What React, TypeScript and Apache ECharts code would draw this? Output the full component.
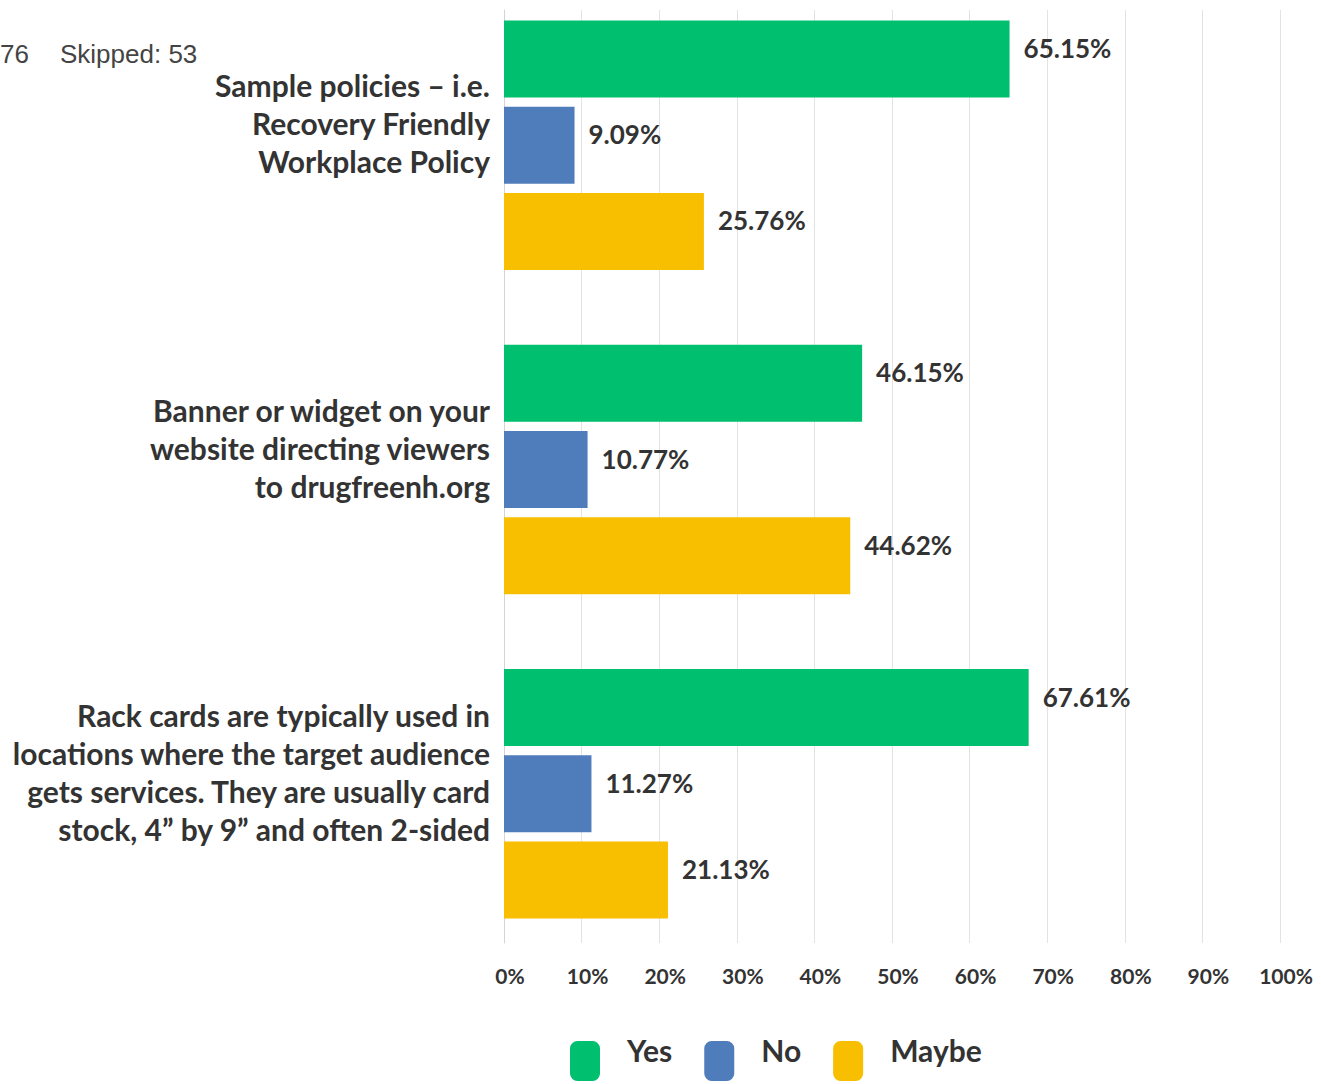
import React, { useEffect, useRef } from "react";
import * as echarts from "echarts";

const categories = [
  "Sample policies – i.e.\nRecovery Friendly\nWorkplace Policy",
  "Banner or widget on your\nwebsite directing viewers\nto drugfreenh.org",
  "Rack cards are typically used in\nlocations where the target audience\ngets services. They are usually card\nstock, 4” by 9” and often 2-sided",
];
const seriesNames = ["Yes", "No", "Maybe"];
const yesValues = [65.15, 46.15, 67.61];
const noValues = [9.09, 10.77, 11.27];
const maybeValues = [25.76, 44.62, 21.13];
const colors = ["#00BF6F", "#4F7CBA", "#F8BE00"];
const headerTexts = ["76", "Skipped: 53"];

const FONT = "Lato, 'Open Sans', sans-serif";
const SHIFT = 17; // container is moved up so the first band can start above the page

export default function App() {
  const ref = useRef<HTMLDivElement>(null);
  useEffect(() => {
    if (!ref.current) return;
    const chart = echarts.init(ref.current, null, { renderer: "svg" });
    const values = [yesValues, noValues, maybeValues];
    chart.setOption({
      animation: false,
      backgroundColor: "#ffffff",
      textStyle: { fontFamily: FONT },
      grid: [
        { left: 504, top: 0, width: 776, height: 973, containLabel: false },
        { left: 504, top: 10 + SHIFT, width: 776, height: 933, containLabel: false },
      ],
      xAxis: [
        { gridIndex: 0, type: "value", min: 0, max: 100, show: false },
        {
          gridIndex: 1,
          type: "value",
          min: 0,
          max: 100,
          interval: 10,
          axisLine: { show: false },
          axisTick: { show: false },
          splitLine: { show: true, lineStyle: { color: "#e3e3e3", width: 1 } },
          axisLabel: {
            formatter: "{value}%",
            fontFamily: FONT,
            fontWeight: "bold",
            fontSize: 21,
            color: "#333333",
            margin: 22,
            padding: [0, 0, 0, 12],
          },
        },
      ],
      yAxis: [
        {
          gridIndex: 0,
          type: "category",
          inverse: true,
          data: categories,
          axisLine: { show: false },
          axisTick: { show: false },
          splitLine: { show: false },
          axisLabel: {
            margin: 14,
            align: "right",
            formatter: (v: string) =>
              v
                .split("\n")
                .map((l) => `{a|${l}}`)
                .join("\n") + "\n{b| }",
            rich: {
              a: {
                fontFamily: FONT,
                fontWeight: "bold",
                fontSize: 30,
                lineHeight: 38,
                color: "#333333",
                align: "right",
              },
              b: { fontSize: 10, lineHeight: 44, align: "right" },
            },
          },
        },
        {
          gridIndex: 1,
          type: "value",
          min: 0,
          max: 1,
          axisLine: { show: true, lineStyle: { color: "#d4d4d4", width: 1 } },
          axisTick: { show: false },
          axisLabel: { show: false },
          splitLine: { show: false },
        },
      ],
      legend: {
        data: seriesNames,
        left: 570,
        top: 1035 + SHIFT,
        padding: 0,
        icon: "roundRect",
        itemWidth: 30,
        itemHeight: 40,
        itemGap: 32,
        formatter: (n: string) => `{t|${n}}\n{s| }`,
        textStyle: {
          rich: {
            t: {
              fontFamily: FONT,
              fontWeight: "bold",
              fontSize: 30,
              lineHeight: 34,
              color: "#333333",
              padding: [0, 0, 0, 22],
            },
            s: { fontSize: 10, lineHeight: 22 },
          },
        },
      },
      graphic: [
        {
          type: "text",
          left: 0,
          top: 41 + SHIFT,
          style: {
            text: headerTexts[0],
            fontFamily: "'Liberation Sans', Arial, sans-serif",
            fontSize: 26,
            fill: "#444444",
          },
        },
        {
          type: "text",
          left: 60,
          top: 41 + SHIFT,
          style: {
            text: headerTexts[1],
            fontFamily: "'Liberation Sans', Arial, sans-serif",
            fontSize: 26,
            fill: "#444444",
          },
        },
      ],
      series: seriesNames.map((name, i) => ({
        name,
        type: "bar",
        xAxisIndex: 0,
        yAxisIndex: 0,
        data: values[i],
        barWidth: 77,
        barGap: "12%",
        itemStyle: { color: colors[i] },
        label: {
          show: true,
          position: "right",
          distance: 14,
          offset: [0, -11],
          formatter: (p: any) => Number(p.value).toFixed(2) + "%",
          fontFamily: FONT,
          fontWeight: "bold",
          fontSize: 26,
          color: "#333333",
        },
      })),
    });
    return () => chart.dispose();
  }, []);
  return (
    <div
      ref={ref}
      style={{
        position: "absolute",
        left: 0,
        top: -SHIFT,
        width: 1321,
        height: 1084 + SHIFT,
      }}
    />
  );
}
